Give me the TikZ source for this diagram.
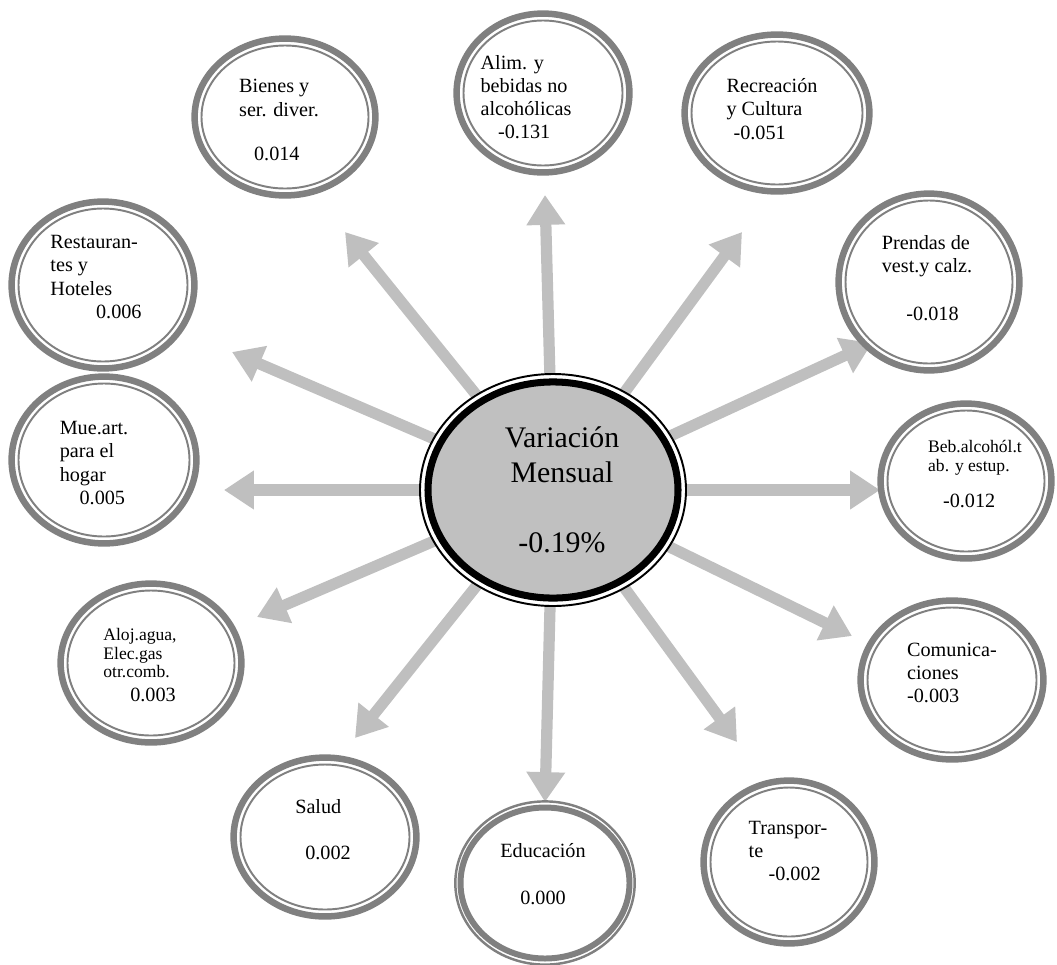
\documentclass[tikz,border=0pt]{standalone}
\usepackage{fontspec}
\setmainfont{Liberation Serif}
\usetikzlibrary{shapes.geometric,arrows.meta,backgrounds}
\definecolor{ringgray}{RGB}{128,128,128}
\definecolor{arrgray}{RGB}{191,191,191}
\definecolor{midgray}{RGB}{192,192,192}

\begin{document}
\begin{tikzpicture}[x=0.02cm,y=-0.02cm,
  rng/.style n args={2}{ellipse,draw=ringgray,fill=white,line width=3.7pt,inner sep=0pt,outer sep=0pt,
    minimum width={(2*#1-6.5)*0.5669pt},minimum height={(2*#2-6.5)*0.5669pt}},
  lbl/.style={align=left,inner sep=0pt,font=\fontsize{11.5}{13.2}\selectfont},
  small/.style={lbl,font=\fontsize{10}{10.5}\selectfont},
  arr/.style={draw=arrgray,line width=6.4pt,-{Triangle[length=17pt,width=21pt]}}]
\useasboundingbox (0,0) rectangle (1057,964);

% centre
\coordinate (o) at (553,490);
\draw[line width=1.1pt,fill=white] (o) ellipse (133 and 116);
\node[ellipse,draw,line width=4pt,fill=midgray,inner sep=0pt,outer sep=0pt,
  minimum width=142.3pt,minimum height=123pt,
  label={[align=center,inner sep=0pt,font=\fontsize{17}{20}\selectfont,shift={(9,0)}]center:{Variación\\Mensual\\[20pt]-0.19\%}}] (c) at (o) {};

% groups
\node[rng={90}{83},label={[lbl,shift={(-17,4)}]center:{Alim. y\\bebidas no\\alcohólicas\\\hspace*{10pt}-0.131}}] (alim) at (543,93) {};
\node[rng={94}{82},label={[lbl,shift={(-6,3)}]center:{Bienes y\\ser. diver.\\[12pt]\hspace*{8.5pt}0.014}}] (bien) at (285,117) {};
\node[rng={96}{82},label={[lbl,shift={(-5,-4)}]center:{Recreación\\y Cultura\\\hspace*{4pt}-0.051}}] (recr) at (777,113) {};
\node[rng={95}{87},label={[lbl,shift={(-7,-8)}]center:{Restauran-\\tes y\\Hoteles\\\hspace*{26pt}0.006}}] (rest) at (103,285) {};
\node[rng={94}{92},label={[lbl,shift={(-2,-4)}]center:{Prendas de\\vest.y calz.\\[14pt]\hspace*{14pt}-0.018}}] (pren) at (929,282) {};
\node[rng={96}{87},label={[lbl,shift={(-10,3)}]center:{Mue.art.\\para el\\hogar\\\hspace*{11.3pt}0.005}}] (mue) at (104,460) {};
\node[rng={89}{81},label={[small,shift={(9,-7)}]center:{Beb.alcohól.t\\ab. y estup.\\[10pt]\hspace*{8.5pt}{\fontsize{11.5}{13.2}\selectfont -0.012}}}] (beb) at (966,481) {};
\node[rng={94}{83},label={[small,shift={(-11,2)}]center:{Aloj.agua,\\Elec.gas\\otr.comb.\\[3pt]\hspace*{15.3pt}{\fontsize{11.5}{13.2}\selectfont 0.003}}}] (aloj) at (151,663) {};
\node[rng={95}{83},label={[lbl,shift={(0,-7)}]center:{Comunica-\\ciones\\-0.003}}] (comu) at (952,680) {};
\node[rng={95}{83},label={[lbl,shift={(-2,-7)}]center:{Salud\\[13pt]\hspace*{5.7pt}0.002}}] (salu) at (325,837) {};
\node[rng={89}{85},label={[lbl,shift={(-1,-11)}]center:{Transpor-\\te\\\hspace*{11.3pt}-0.002}}] (tran) at (789,862) {};
\node[ellipse,draw=ringgray,fill=white,line width=1.4pt,inner sep=0pt,outer sep=0pt,
  minimum width=102.1pt,minimum height=92.9pt,
  label={[lbl,align=center,shift={(-2,-9)}]center:{Educación\\[14pt]0.000}}] (educ) at (545,883) {};

% inner rings
\foreach \n/\rx/\ry in {alim/90/83,bien/94/82,recr/96/82,rest/95/87,pren/94/92,mue/96/87,
  beb/89/81,aloj/94/83,comu/95/83,salu/95/83,tran/89/85}
  \draw[ringgray,line width=1.1pt] (\n.center) ellipse ({\rx-10.5} and {\ry-10.5});
\draw[ringgray,line width=3.4pt] (educ.center) ellipse (84.5 and 75.5);

% arrows
\begin{scope}[on background layer]
\foreach \n/\x/\y in {alim/545/195,bien/345/232,recr/742/232,rest/232/352,pren/872/343,mue/224/490,
  beb/880/490,aloj/257/617,comu/852/636,salu/355/738,educ/545/802,tran/737/742}
  \coordinate (t\n) at (\x,\y);
\foreach \n in {alim,bien,recr,rest,pren,mue,beb,aloj,comu,salu,educ,tran}
  \draw[arr] (c) -- (t\n);
\end{scope}
\end{tikzpicture}
\end{document}
